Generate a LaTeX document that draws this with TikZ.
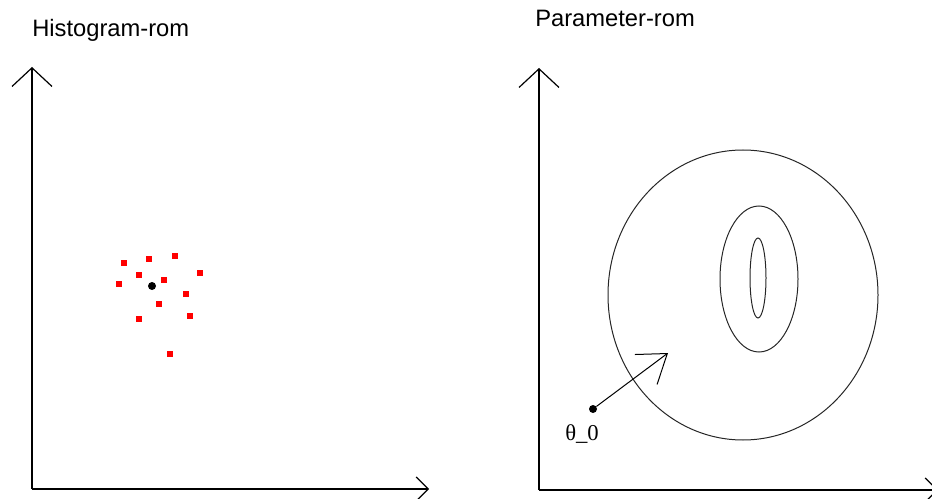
\documentclass[tikz,border=0pt]{standalone}
\usepackage{fontspec}
\setmainfont{Liberation Sans}
\newfontfamily\thetafont{Liberation Serif}
\usepackage{tikz}
\usetikzlibrary{arrows.meta, positioning}
\definecolor{histred}{RGB}{255,0,0}
\tikzset{
    axisline/.style={line width=1.5pt, draw=black},
    yaxisarrow/.style={-{Straight Barb[length=14pt, width=30pt, line width=0.9pt]}},
    xaxisarrow/.style={-{Straight Barb[length=9pt, width=18pt, line width=0.9pt]}},
    contour/.style={line width=0.75pt, draw=black!85},
    panetitle/.style={anchor=base west, font=\fontsize{17.8}{21}\selectfont, inner sep=0pt},
    sample/.style={fill=histred, minimum size=4.8pt, inner sep=0pt},
}

\begin{document}
\begin{tikzpicture}[x=0.75pt, y=-0.75pt]
            \useasboundingbox (0,0) rectangle (932,499);

            % histogram space
            \node[panetitle] (histtitle) at (32,37) {Histogram-rom};
            \coordinate (horigin) at (32,489);
            \coordinate (hytip) at (32,67);
            \coordinate (hxtip) at (429,489);
            \draw[axisline, yaxisarrow] (horigin) -- (hytip);
            \draw[axisline, xaxisarrow] (horigin) -- (hxtip);
            \foreach \px/\py [count=\i] in {124/263, 149/259, 175/256, 139/275, 200/273, 119/284,
                164/280, 186/294, 159/304, 190/316, 139/319, 170/354}
                \node[sample] (pt\i) at (\px,\py) {};
            \fill (152,286) circle (3pt);

            % parameter space
            \node[panetitle] (partitle) at (535,27) {Parameter-rom};
            \coordinate (porigin) at (539,490);
            \coordinate (pytip) at (539,68);
            \coordinate (pxtip) at (938,490);
            \draw[axisline, yaxisarrow] (porigin) -- (pytip);
            \draw[axisline, xaxisarrow] (porigin) -- (pxtip);
            \draw[contour] (743,295) ellipse (135 and 145);
            \draw[contour] (759,279) ellipse (39 and 73);
            \draw[contour] (758,278) ellipse (8 and 40);
            \node[circle, fill, inner sep=0pt, minimum size=6pt] (theta0) at (593,409) {};
            \node[anchor=base west, inner sep=0pt, font=\thetafont\fontsize{17}{20}\selectfont]
                (thetalabel) at (565,440) {θ\_0};
            \coordinate (arrowtip) at (668,353);
            \draw[line width=0.75pt, -{Straight Barb[length=20pt, width=28pt, line width=0.75pt]}]
                (theta0) -- (arrowtip);
        \end{tikzpicture}
\end{document}
